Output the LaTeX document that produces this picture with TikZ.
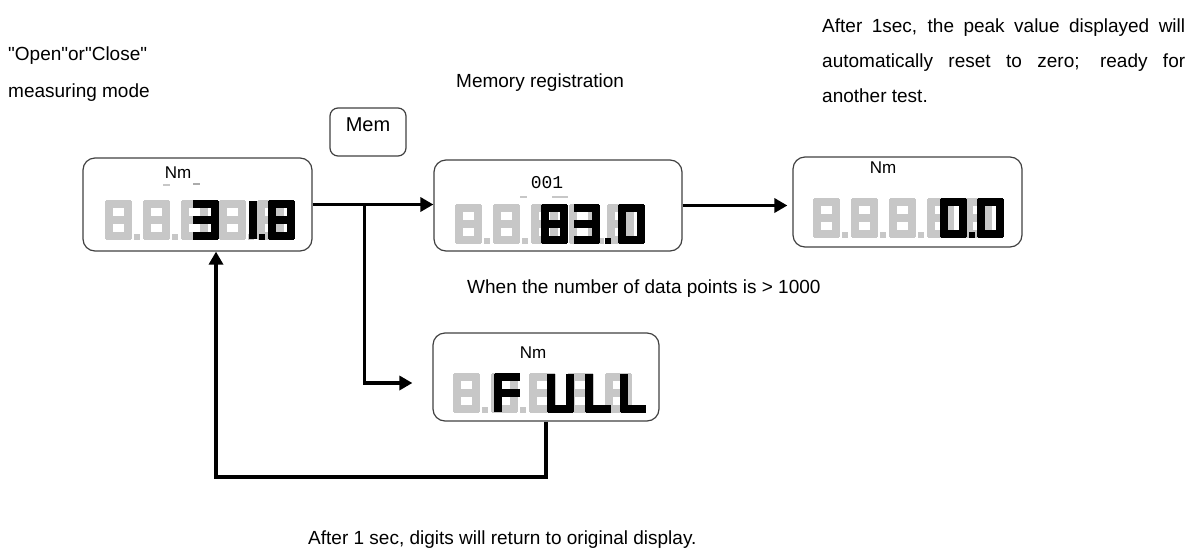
\documentclass[tikz,border=0pt]{standalone}
\usepackage{fontspec}
\setmainfont{Liberation Sans}
\setmonofont{Liberation Mono}
\usetikzlibrary{arrows.meta}
\usetikzlibrary{calc}

\colorlet{ghost}{black!22}
\newcommand{\digw}{27}
\newcommand{\digh}{40}
\newcommand{\digt}{8}
\newcommand{\lcdsega}[3]{\fill[#3] (#1+1,#2) rectangle ++(\digw-2,\digt);}
\newcommand{\lcdsegb}[3]{\fill[#3] (#1+\digw-\digt,#2+1) rectangle ++(\digt,\digh/2-1);}
\newcommand{\lcdsegc}[3]{\fill[#3] (#1+\digw-\digt,#2+\digh/2) rectangle ++(\digt,\digh/2-1);}
\newcommand{\lcdsegd}[3]{\fill[#3] (#1+1,#2+\digh-\digt) rectangle ++(\digw-2,\digt);}
\newcommand{\lcdsege}[3]{\fill[#3] (#1,#2+\digh/2) rectangle ++(\digt,\digh/2-1);}
\newcommand{\lcdsegf}[3]{\fill[#3] (#1,#2+1) rectangle ++(\digt,\digh/2-1);}
\newcommand{\lcdsegg}[3]{\fill[#3] (#1+1,#2+\digh/2-\digt/2) rectangle ++(\digw-2,\digt);}
\newcommand{\lcdchar}[4]{\foreach \s in {#3}{\csname lcdseg\s\endcsname{#1}{#2}{#4}}}
\newcommand{\lcdrow}[2]{%
  \foreach \k in {0,...,4}{\lcdchar{#1+38*\k}{#2}{a,b,c,d,e,f,g}{ghost}}%
  \foreach \k in {0,...,3}{\fill[ghost] (#1+38*\k+\digw+2,#2+\digh-6) rectangle ++(6,6);}}

\begin{document}
\begin{tikzpicture}[x=1pt,y=-1pt,
  lcdbox/.style={draw=black!75,line width=1.2pt,rounded corners=12pt,inner sep=0pt},
  keybox/.style={draw=black!75,line width=1.2pt,rounded corners=8pt,inner sep=0pt},
  flow/.style={line width=3.5pt,-{Triangle[length=13pt,width=14pt]}},
  note/.style={font=\fontsize{19}{37}\selectfont,inner sep=0pt},
  unit/.style={font=\fontsize{17}{17}\selectfont,inner sep=0pt}]
  \useasboundingbox (0,0) rectangle (1194,552);

  \node [lcdbox,minimum width=229pt,minimum height=93pt] (disp1) at (197.5,204.5) {};
  \node [lcdbox,minimum width=248pt,minimum height=91pt] (disp2) at (558,205.5) {};
  \node [lcdbox,minimum width=229pt,minimum height=90pt] (disp3) at (907.5,202) {};
  \node [lcdbox,minimum width=226pt,minimum height=88pt] (full)  at (546,377) {};
  \node [keybox,minimum width=76pt,minimum height=48pt,text depth=14pt,
         font=\fontsize{20}{20}\selectfont] (mem) at (368,132) {Mem};

  \node [note,anchor=north west,align=left] (mode) at (8,47)
    {\textquotedbl Open\textquotedbl or\textquotedbl Close\textquotedbl\\measuring mode};
  \node [note,anchor=base west] (memreg) at (456,87) {Memory registration};
  \node [note,anchor=north west,text width=363pt,align=justify,
         font=\fontsize{19}{35}\selectfont] (reset) at (822,19)
    {After 1sec, the peak value displayed will\linebreak
     automatically reset to zero; ready for\linebreak another test.};
  \node [note,anchor=base west] (more) at (467,293) {When the number of data points is > 1000};
  \node [note,anchor=base west] (back) at (308,544) {After 1 sec, digits will return to original display.};

  \node [unit] (nm1) at (178,173) {Nm};
  \node [unit] (nm3) at (883,168) {Nm};
  \node [unit] (nm4) at (533,353) {Nm};
  \node [font=\ttfamily\fontsize{18}{18}\selectfont,inner sep=0pt] (count) at (547,183) {001};
  \draw [ghost,line width=1.2pt] (163,185) -- (170,185);
  \draw [ghost!150,line width=1.2pt] (193,184) -- (200,184);
  \draw [ghost,line width=1.2pt] (520,197) -- (527,197);
  \draw [ghost,line width=1.2pt] (552,197) -- (568,197);

  % 31.8
  \lcdrow{105}{200}
  \lcdchar{192}{200}{a,b,c,d,g}{black}
  \lcdchar{230}{200}{b,c}{black}
  \fill (259,234) rectangle ++(6,6);
  \lcdchar{268}{200}{a,b,c,d,e,f,g}{black}

  % 83.0
  \lcdrow{455}{204}
  \lcdchar{541}{204}{a,b,c,d,e,f,g}{black}
  \lcdchar{573}{204}{a,b,c,d,g}{black}
  \fill (605,238) rectangle ++(6,6);
  \lcdchar{618}{204}{a,b,c,d,e,f}{black}

  % 0.0
  \lcdrow{813}{198}
  \lcdchar{940}{198}{a,b,c,d,e,f}{black}
  \fill (969,232) rectangle ++(6,6);
  \lcdchar{977}{198}{a,b,c,d,e,f}{black}

  % FULL
  \lcdrow{453}{373}
  \lcdchar{494}{373}{a,e,f,g}{black}
  \lcdchar{547}{373}{b,c,d,e,f}{black}
  \lcdchar{585}{373}{d,e,f}{black}
  \lcdchar{620}{373}{d,e,f}{black}

  \coordinate (split) at ($(disp1.east)!0.43!(disp1.east -| disp2.west)$);
  \coordinate (low) at (216,477);
  \draw [flow] (disp1.east) -- (disp1.east -| disp2.west);
  \draw [flow,shorten >=20pt] (split) |- ([yshift=-6pt]full.west);
  \draw [flow,shorten >=5pt] (disp2.east) -- (disp2.east -| disp3.west);
  \draw [flow] (full.south) |- (low) -- (low |- disp1.south);
\end{tikzpicture}
\end{document}
